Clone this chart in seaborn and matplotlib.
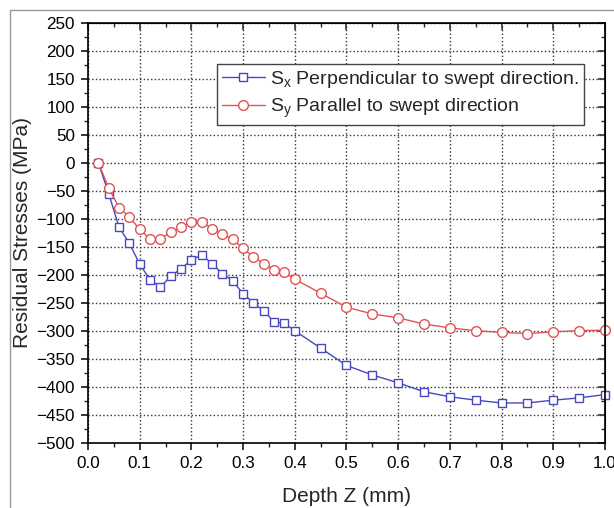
"""
Residual stress depth profile - Sx (perpendicular) vs Sy (parallel to swept direction).
"""
import matplotlib
matplotlib.use('Agg')
import matplotlib.pyplot as plt
from matplotlib.lines import Line2D
from matplotlib.ticker import MultipleLocator
import seaborn as sns
import pandas as pd

# Data
depth = [0.02, 0.04, 0.06, 0.08, 0.10, 0.12, 0.14, 0.16, 0.18, 0.20,
         0.22, 0.24, 0.26, 0.28, 0.30, 0.32, 0.34, 0.36, 0.38, 0.40,
         0.45, 0.50, 0.55, 0.60, 0.65, 0.70, 0.75, 0.80, 0.85, 0.90, 0.95, 1.00]
sx_perp = [0, -55, -115, -144, -181, -209, -222, -203, -189, -174,
           -164, -181, -198, -211, -234, -250, -265, -284, -287, -300,
           -331, -362, -379, -393, -409, -418, -424, -429, -429, -424, -420, -414]
sy_par = [0, -45, -80, -97, -119, -136, -136, -124, -115, -105,
          -105, -118, -127, -137, -153, -168, -180, -192, -196, -208,
          -233, -258, -270, -277, -288, -295, -300, -303, -305, -302, -300, -299]

label_x = r'S$_\mathregular{x}$ Perpendicular to swept direction.'
label_y = r'S$_\mathregular{y}$ Parallel to swept direction'

df_x = pd.DataFrame({'depth': depth, 'stress': sx_perp})
df_y = pd.DataFrame({'depth': depth, 'stress': sy_par})

sns.set_style('ticks')
plt.rcParams['font.family'] = ['Liberation Sans', 'DejaVu Sans']
plt.rcParams['mathtext.fontset'] = 'custom'
plt.rcParams['mathtext.rm'] = 'Liberation Sans'

fig = plt.figure(figsize=(6.14, 5.08), dpi=100)
ax = fig.add_axes([0.1433, 0.1285, 0.842, 0.8268])

blue = '#4848BE'
red = '#DE5454'

sns.lineplot(data=df_x, x='depth', y='stress', ax=ax, color=blue, lw=1.0,
             marker='s', markersize=6.3, mfc='white', mec=blue, mew=1.0,
             label=label_x, clip_on=False)
sns.lineplot(data=df_y, x='depth', y='stress', ax=ax, color=red, lw=1.0,
             marker='o', markersize=7, mfc='white', mec=red, mew=1.0,
             label=label_y, clip_on=False)

ax.set_xlim(0.0, 1.0)
ax.set_ylim(-500, 250)
ax.xaxis.set_major_locator(MultipleLocator(0.1))
ax.xaxis.set_minor_locator(MultipleLocator(0.05))
ax.yaxis.set_major_locator(MultipleLocator(50))
ax.yaxis.set_minor_locator(MultipleLocator(25))
ax.set_xticklabels([f'{v:.1f}' for v in ax.get_xticks()])

ax.grid(True, which='major', linestyle=':', color='#333333', linewidth=1.0)
ax.set_axisbelow(True)

for side in ['left', 'bottom', 'top', 'right']:
    ax.spines[side].set_visible(True)
    ax.spines[side].set_color('black')
    ax.spines[side].set_linewidth(1.2)

ax.tick_params(axis='both', which='major', direction='out', length=5, width=1.1,
               labelsize=12.3, colors='black', pad=4.5)
ax.tick_params(axis='both', which='minor', direction='out', length=2.8, width=1.0)

# mirrored inward ticks on top and right
sec_x = ax.secondary_xaxis('top')
sec_x.xaxis.set_major_locator(MultipleLocator(0.1))
sec_x.xaxis.set_minor_locator(MultipleLocator(0.05))
sec_x.tick_params(which='major', direction='in', length=5, width=1.1, labeltop=False)
sec_x.tick_params(which='minor', direction='in', length=2.8, width=1.0)
sec_y = ax.secondary_yaxis('right')
sec_y.yaxis.set_major_locator(MultipleLocator(50))
sec_y.yaxis.set_minor_locator(MultipleLocator(25))
sec_y.tick_params(which='major', direction='in', length=5, width=1.1, labelright=False)
sec_y.tick_params(which='minor', direction='in', length=2.8, width=1.0)

ax.set_xlabel('Depth Z (mm)', fontsize=15)
ax.set_ylabel('Residual Stresses (MPa)', fontsize=15)
ax.xaxis.set_label_coords(0.5, -0.105)
ax.yaxis.set_label_coords(-0.108, 0.5)

leg = ax.legend(loc='upper left', bbox_to_anchor=(0.2495, 0.9017), borderaxespad=0,
                fontsize=14, frameon=True, fancybox=False, framealpha=1,
                edgecolor='#444444', handlelength=2.2, handletextpad=0.3,
                borderpad=0.25, labelspacing=0.35)
leg.get_frame().set_linewidth(1.0)

# thin grey frame of the cropped source image
fig.add_artist(Line2D([10 / 614, 10 / 614], [0, 498 / 508], transform=fig.transFigure,
                      color='#999999', lw=1.0))
fig.add_artist(Line2D([10 / 614, 1], [498 / 508, 498 / 508], transform=fig.transFigure,
                      color='#999999', lw=1.0))

fig.savefig('out.png', dpi=100)
plt.close(fig)
